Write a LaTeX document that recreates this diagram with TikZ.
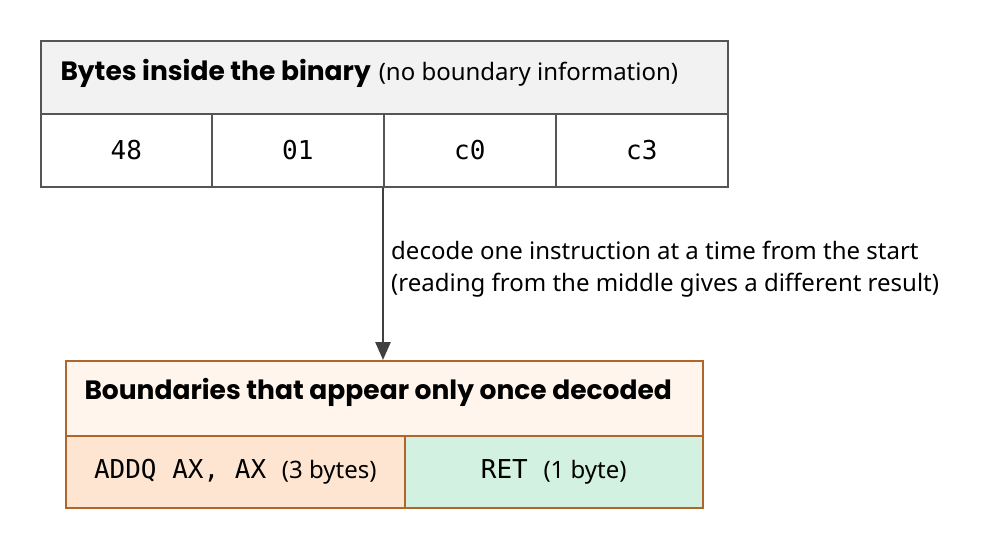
\documentclass[tikz,border=0pt]{standalone}
\usepackage{fontspec}
\setmainfont{Noto Sans}
\newfontfamily\boldfont{Poppins}[UprightFont=* Bold]
\setmonofont{DejaVu Sans Mono}
\usetikzlibrary{arrows.meta}
\definecolor{grayline}{HTML}{555555}
\definecolor{grayfill}{HTML}{F2F2F2}
\definecolor{brownline}{HTML}{B0652A}
\definecolor{peachfill}{HTML}{FFF5EC}
\definecolor{orangefill}{HTML}{FDE5D2}
\definecolor{greenfill}{HTML}{D3F1E0}
\begin{document}
\begin{tikzpicture}[x=1pt,y=-1pt,
    cell/.style={draw=grayline,line width=1.5pt,inner sep=0pt,anchor=north west,font=\ttfamily\fontsize{26}{28}\selectfont},
    bcell/.style={cell,draw=brownline},
    title/.style={font=\fontsize{24}{28}\selectfont}]
    \useasboundingbox (0,0) rectangle (998,547);
    % bytes row
    \node [cell,fill=grayfill,minimum width=687pt,minimum height=73pt] (top) at (40,40) {};
    \node [title,anchor=west] (toptext) at (57,73) {{\boldfont\fontsize{26.5}{28}\selectfont Bytes inside the binary}\hspace{8pt}(no boundary information)};
    \node [cell,minimum width=171pt,minimum height=73pt] (b1) at (40,113) {48};
    \node [cell,minimum width=172pt,minimum height=73pt] (b2) at (211,113) {01};
    \node [cell,minimum width=172pt,minimum height=73pt] (b3) at (383,113) {c0};
    \node [cell,minimum width=172pt,minimum height=73pt] (b4) at (555,113) {c3};
    % decoded row
    \node [bcell,fill=peachfill,minimum width=637pt,minimum height=75pt] (bot) at (65,360) {};
    \node [title,anchor=west] (bottext) at (81,392) {\boldfont\fontsize{26.5}{28}\selectfont Boundaries that appear only once decoded};
    \node [bcell,fill=orangefill,minimum width=339pt,minimum height=72pt] (i1) at (65,435) {ADDQ AX, AX {\rmfamily\fontsize{24}{28}\selectfont(3 bytes)}};
    \node [bcell,fill=greenfill,minimum width=298pt,minimum height=72pt] (i2) at (404,435) {RET {\rmfamily\fontsize{24}{28}\selectfont(1 byte)}};
    % arrow
    \draw [black!75,line width=2.5pt,-{Triangle[length=18pt,width=15pt]}] (b3.south west) -- (383,360) coordinate (tip);
    \node [title,anchor=north west,align=left,inner sep=0pt,font=\fontsize{24}{32}\selectfont] (note) at (391,241)
      {decode one instruction at a time from the start\\(reading from the middle gives a different result)};
\end{tikzpicture}
\end{document}
